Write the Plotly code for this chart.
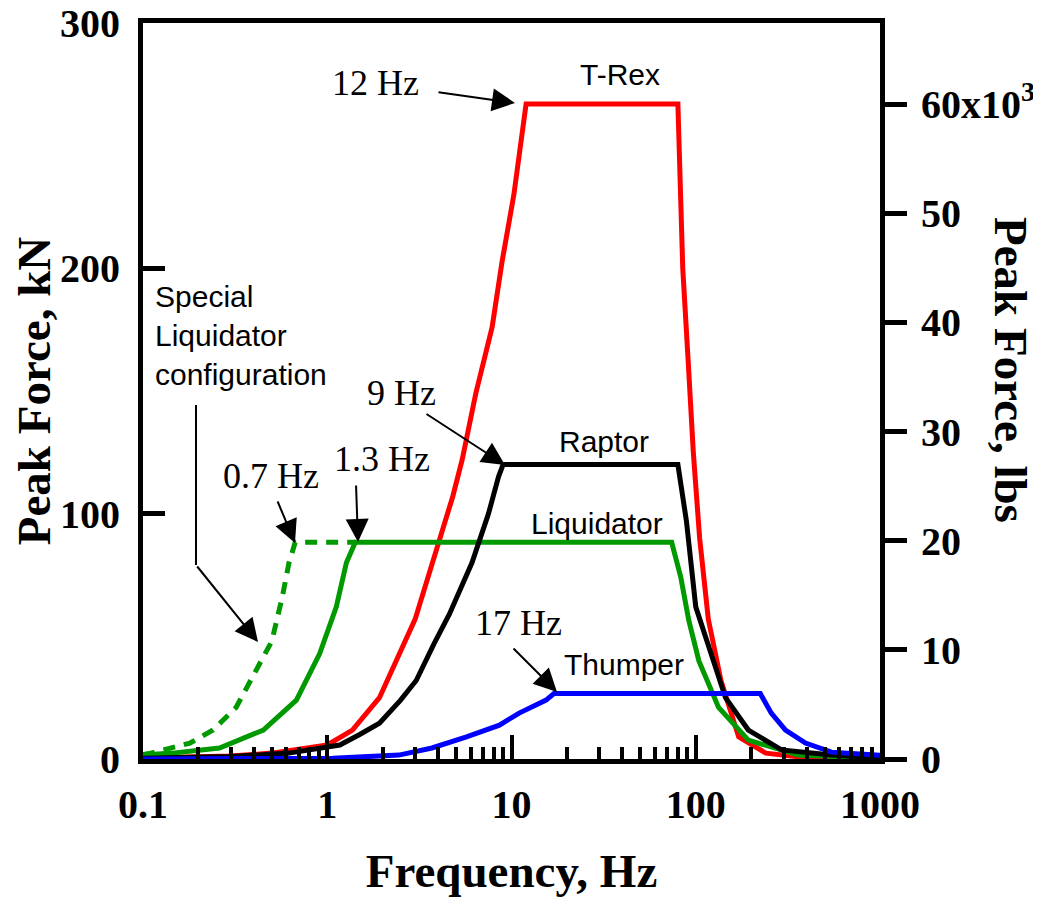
import plotly.graph_objects as go

# ---------------- data (frequency in Hz, peak force in kN) ----------------
trex_f = [0.1, 0.2, 0.3, 0.5, 0.7, 1.0, 1.37, 1.92, 3.0, 4.0, 4.8, 5.4, 6.4, 7.85, 8.9, 10.3, 12,
          80, 85, 91, 97, 105, 117, 137, 171, 240, 400, 1000]
trex_F = [0.4, 0.8, 1.2, 2.4, 3.8, 5.7, 11.8, 25, 57, 87, 107, 122, 149, 176, 203, 230, 267,
          267, 200, 162, 125, 90, 57, 32, 9, 2.4, 0.5, 0]

raptor_f = [0.1, 0.3, 0.62, 1.17, 1.5, 1.92, 2.5, 3.04, 3.8, 4.6, 6.1, 7.5, 8.5, 9,
            80, 89, 100, 122, 145, 193, 292, 545, 1000]
raptor_F = [0.3, 1.0, 2.4, 5.7, 10, 14.6, 24, 32, 47, 59, 80, 100, 115, 120,
            120, 97, 62, 43, 25, 11.8, 3.7, 1.6, 0.5]

liq_f = [0.1, 0.145, 0.26, 0.45, 0.68, 0.91, 1.12, 1.27, 1.42, 74, 83, 91.6, 104, 133, 193, 360, 1000]
liq_F = [1.6, 2.4, 4.5, 11.8, 24, 43, 62, 80, 88.3, 88.3, 74, 56.6, 40, 21, 7.7, 1.6, 0.3]

special_f = [0.1, 0.11, 0.18, 0.24, 0.32, 0.41, 0.5, 0.57, 0.62, 0.67, 1.42]
special_F = [1.8, 2.4, 6.5, 11.8, 21, 36, 48, 66, 80, 88.3, 88.3]

thumper_f = [0.1, 1.07, 2.45, 3.7, 5.7, 8.6, 11, 15.4, 17, 224, 257, 307, 394, 545, 950, 1000]
thumper_F = [0, 0.3, 1.6, 4.5, 9, 13.8, 18.7, 24, 26.7, 26.7, 18.7, 11.8, 6.5, 2.8, 1.6, 1.5]

x_tickvals = [0.1, 1, 10, 100, 1000]
x_ticktext = ["0.1", "1", "10", "100", "1000"]
y_tickvals = [0, 100, 200, 300]
y2_tickvals = [0, 10000, 20000, 30000, 40000, 50000, 60000]
y2_ticktext = ["0", "10", "20", "30", "40", "50", "60x10<sup>3</sup>"]
minor_vals = [m * d for d in (0.1, 1, 10, 100) for m in range(2, 10)]

KN_TO_LBS = 224.809
Y_MAX_KN = 300

SERIF = "Liberation Serif, Times New Roman, serif"
SANS = "Liberation Sans, Arial, sans-serif"

fig = go.Figure()
fig.add_trace(go.Scatter(x=trex_f, y=trex_F, mode="lines", line=dict(color="#ff0000", width=5), name="T-Rex"))
fig.add_trace(go.Scatter(x=special_f, y=special_F, mode="lines",
                         line=dict(color="#009900", width=5, dash="12px,9px"), name="Special Liquidator"))
fig.add_trace(go.Scatter(x=liq_f, y=liq_F, mode="lines", line=dict(color="#009900", width=5), name="Liquidator"))
fig.add_trace(go.Scatter(x=raptor_f, y=raptor_F, mode="lines", line=dict(color="#000000", width=5), name="Raptor"))
fig.add_trace(go.Scatter(x=thumper_f, y=thumper_F, mode="lines", line=dict(color="#0000ff", width=5), name="Thumper"))
# invisible companion trace to drive the lbs axis
fig.add_trace(go.Scatter(x=trex_f, y=[v * KN_TO_LBS for v in trex_F], yaxis="y2", mode="lines",
                         line=dict(color="rgba(0,0,0,0)", width=0), hoverinfo="skip", showlegend=False))

# plot-area geometry in screen pixels (page body has an 8px default margin)
PAGE = 8
L, R, T, B = 143, 880, 23, 759
W, H = R - L, B - T
FIG_W, FIG_H = 1041 - PAGE, 900 - PAGE


def px(x):
    return (x - L) / W


def py(y):
    return (B - y) / H


ann = []


def text(t, x, y, font, xanchor="center", align="center", angle=0):
    ann.append(dict(text=t, x=px(x), y=py(y), xref="paper", yref="paper", showarrow=False,
                    xanchor=xanchor, yanchor="middle", align=align, font=font, textangle=angle))


def arrow(tip, tail):
    ann.append(dict(text="", x=px(tip[0]), y=py(tip[1]), xref="paper", yref="paper", showarrow=True,
                    ax=tail[0] - tip[0], ay=tail[1] - tip[1], arrowhead=2, arrowsize=2.3,
                    arrowwidth=2, arrowcolor="black", standoff=0, startstandoff=0))


tfont = dict(family=SERIF, size=36, color="black")
sfont = dict(family=SANS, size=30, color="black")

text("12 Hz", 375, 83, tfont)
text("9 Hz", 401, 393, tfont)
text("1.3 Hz", 382, 459, tfont)
text("0.7 Hz", 271, 476, tfont)
text("17 Hz", 518, 623, tfont)
text("T-Rex", 620, 75, sfont)
text("Raptor", 604, 441, sfont)
text("Liquidator", 597, 523, sfont)
text("Thumper", 624, 664, sfont)
text("Special<br>Liquidator<br>configuration", 153, 335, sfont, xanchor="left", align="left")
text("Peak Force, lbs", 1011, 370, dict(family=SERIF, size=47, color="black", weight="bold"), angle=90)

arrow((515, 103), (437, 92))
arrow((505, 465), (425, 413))
arrow((358, 542), (356, 484))
arrow((295, 543), (277, 500))
arrow((557, 692), (512, 647))
arrow((258, 642), (196, 565))

fig.add_shape(type="line", xref="paper", yref="paper", x0=px(196), x1=px(196), y0=py(405), y1=py(565),
              line=dict(color="black", width=2))

tickfont = dict(family=SERIF, size=40, color="black", weight="bold")
titlefont = dict(family=SERIF, size=47, color="black", weight="bold")

fig.update_layout(
    width=FIG_W, height=FIG_H,
    template="none",
    paper_bgcolor="white", plot_bgcolor="white",
    margin=dict(l=L - PAGE, r=FIG_W - (R - PAGE), t=T - PAGE, b=FIG_H - (B - PAGE), autoexpand=False),
    showlegend=False,
    annotations=ann,
    xaxis=dict(type="log", range=[-1, 3], showgrid=False, zeroline=False,
               showline=True, linecolor="black", linewidth=5, mirror=True,
               tickmode="array", tickvals=x_tickvals, ticktext=x_ticktext,
               ticks="inside", ticklen=24, tickwidth=4, tickcolor="black",
               tickfont=tickfont, ticklabelstandoff=6, ticklabeloverflow="allow",
               minor=dict(tickmode="array", tickvals=minor_vals, ticks="inside", ticklen=12,
                          tickwidth=4, tickcolor="black", showgrid=False),
               title=dict(text="Frequency, Hz", font=titlefont, standoff=30),
               automargin=False),
    yaxis=dict(range=[0, Y_MAX_KN], showgrid=False, zeroline=False,
               showline=True, linecolor="black", linewidth=5,
               tickmode="array", tickvals=y_tickvals,
               ticks="inside", ticklen=22, tickwidth=5, tickcolor="black",
               tickfont=tickfont, ticklabelstandoff=10, ticklabeloverflow="allow",
               title=dict(text="Peak Force, kN", font=titlefont, standoff=14),
               automargin=False),
    yaxis2=dict(range=[0, Y_MAX_KN * KN_TO_LBS], overlaying="y", side="right", showgrid=False, zeroline=False,
                showline=True, linecolor="black", linewidth=5,
                tickmode="array", tickvals=y2_tickvals, ticktext=y2_ticktext,
                ticks="outside", ticklen=22, tickwidth=5, tickcolor="black",
                tickfont=tickfont, ticklabelstandoff=6, ticklabeloverflow="allow", automargin=False),
)

fig.write_html("out.html")
